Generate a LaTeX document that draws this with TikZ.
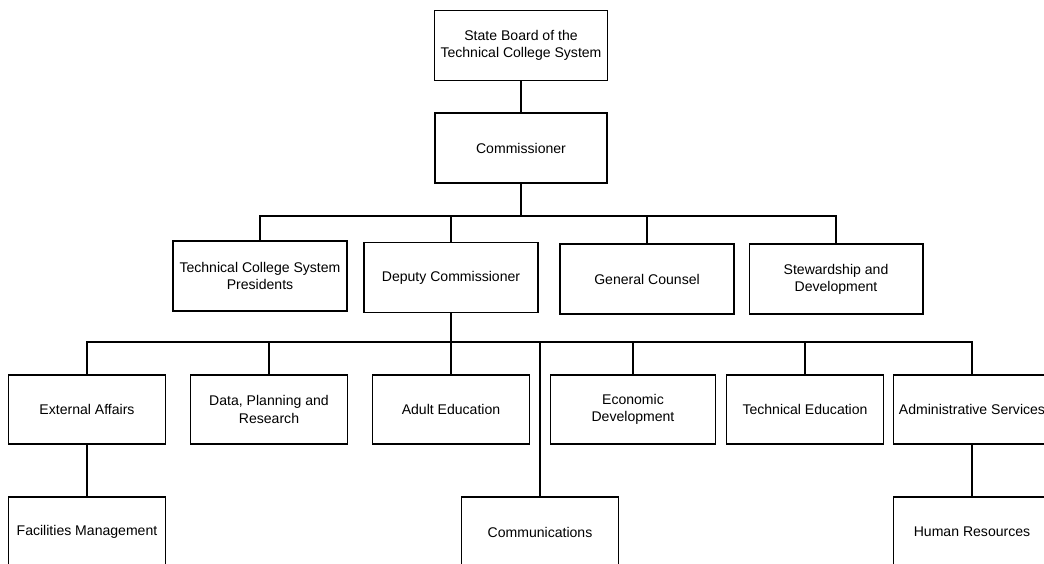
\documentclass[tikz,border=0pt]{standalone}
\usepackage{fontspec}
\setmainfont{Liberation Sans}

\begin{document}
\begin{tikzpicture}[
x=0.02cm,
y=-0.02cm,
font=\fontsize{8pt}{9.8pt}\selectfont,
topbox/.style={
rectangle,
draw=black,
line width=0.6pt,
align=center,
minimum width=3.44cm,
minimum height=1.4cm
},
midbox/.style={
rectangle,
draw=black,
line width=0.6pt,
align=center,
minimum width=3.48cm,
minimum height=1.4cm
},
unitbox/.style={
rectangle,
draw=black,
line width=0.6pt,
align=center,
minimum width=3.14cm,
minimum height=1.38cm
},
link/.style={line width=1.1pt}
]

\useasboundingbox (0,0) rectangle (1044,564);
\clip (0,0) rectangle (1044,564);

% levels of the horizontal bars
\coordinate (upperbar) at (0,216);
\coordinate (lowerbar) at (0,342);

\node[topbox] (board) at (521,45.5)
{State Board of the\\Technical College System};

\node[topbox] (commissioner) at (521,148)
{Commissioner};

\node[midbox] (presidents) at (260,276)
{Technical College System\\Presidents};

\node[midbox] (deputy) at (451,277.5)
{Deputy Commissioner};

\node[midbox] (counsel) at (647,279)
{General Counsel};

\node[midbox] (stewardship) at (836,279)
{Stewardship and\\Development};

\node[unitbox] (external) at (87,409.5)
{External Affairs};

\node[unitbox] (dataplan) at (269,409.5)
{Data, Planning and\\Research};

\node[unitbox] (adulted) at (451,409.5)
{Adult Education};

\node[unitbox, minimum width=3.3cm] (economic) at (633,409.5)
{Economic\\Development};

\node[unitbox] (teched) at (805,409.5)
{Technical Education};

\node[unitbox] (adminserv) at (972,409.5)
{Administrative Services};

\node[unitbox, minimum height=1.4cm] (facilities) at (87,532)
{Facilities Management};

\node[unitbox, minimum height=1.4cm] (comms) at (540,532)
{Communications};

\node[unitbox, minimum height=1.4cm] (humanres) at (972,532)
{Human Resources};

% Board down to commissioner
\draw[link] (board.south) -- (commissioner.north);
\draw[link] (commissioner.south) -- (commissioner.south |- upperbar);

% Upper bar with its drops
\draw[link] (presidents.north) -- (presidents.north |- upperbar) -- (stewardship.north |- upperbar) -- (stewardship.north);
\draw[link] (deputy.north |- upperbar) -- (deputy.north);
\draw[link] (counsel.north |- upperbar) -- (counsel.north);

% Lower bar with its drops
\draw[link] (deputy.south) -- (deputy.south |- lowerbar);
\draw[link] (external.north) -- (external.north |- lowerbar) -- (adminserv.north |- lowerbar) -- (adminserv.north);
\foreach \unit in {dataplan, adulted, economic, teched}
\draw[link] (\unit.north |- lowerbar) -- (\unit.north);
\draw[link] (comms.north |- lowerbar) -- (comms.north);

% Units under units
\draw[link] (external.south) -- (facilities.north);
\draw[link] (adminserv.south) -- (humanres.north);

\end{tikzpicture}
\end{document}
